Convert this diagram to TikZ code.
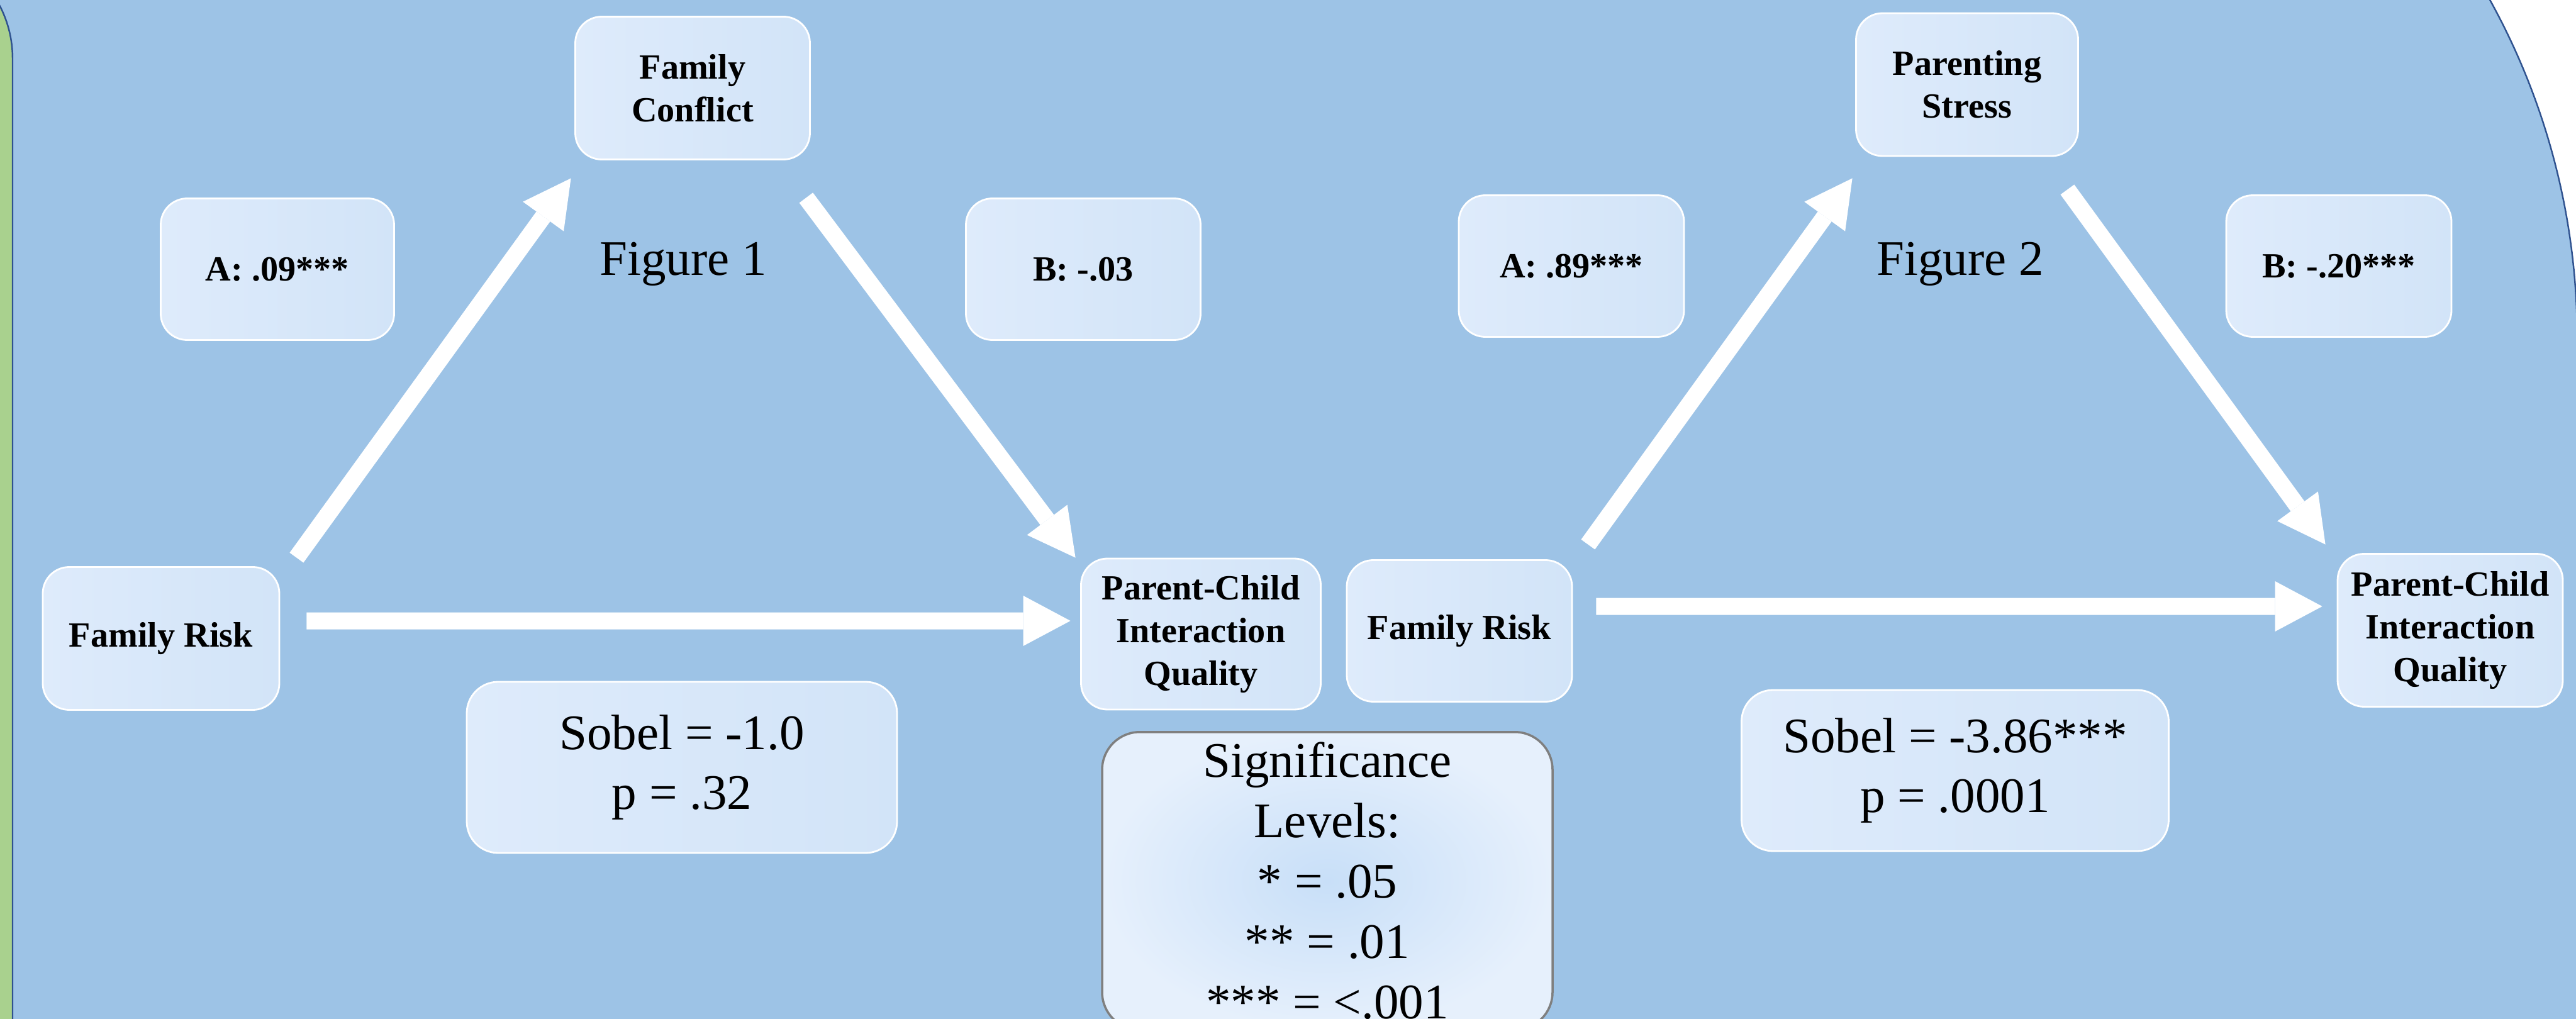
\documentclass[tikz,border=0pt]{standalone}
\usepackage{fontspec}
\setmainfont{Liberation Serif}
\usetikzlibrary{arrows.meta}
\definecolor{bgblue}{HTML}{9DC3E6}
\definecolor{bggreen}{HTML}{A9D18E}
\definecolor{edgeblue}{HTML}{2F528F}
\definecolor{boxlight}{HTML}{DEEBFB}
\definecolor{boxmid}{HTML}{D2E4F8}
\definecolor{sigin}{HTML}{C8DFF8}
\definecolor{sigout}{HTML}{E6F0FC}
\definecolor{sigedge}{HTML}{7F7F7F}
\begin{document}
\begin{tikzpicture}[
  varbox/.style={rounded corners=0.42cm, draw=white, line width=0.8pt, left color=boxlight, right color=boxmid, align=center, inner sep=0pt, font=\fontsize{16}{19.3}\selectfont\bfseries},
  bigbox/.style={varbox, rounded corners=0.5cm, font=\fontsize{22.5}{27.3}\selectfont},
  figlabel/.style={inner sep=0pt, font=\fontsize{22.5}{27}\selectfont},
  flow/.style={draw=white, line width=0.27cm, -{Triangle[length=0.75cm,width=0.8cm,line width=0pt]}}]
\useasboundingbox (0,0) rectangle (40.95,-16.2);
\clip (0,0) rectangle (40.95,-16.2);
\begin{scope}
  \fill[white] (0,0) rectangle (40.95,-16.2);
  \filldraw[fill=bgblue, draw=edgeblue, line width=0.7pt, rounded corners=11.18cm] (-5,5.78) rectangle (40.97,-30);
  \filldraw[fill=bggreen, draw=edgeblue, line width=0.7pt, rounded corners=1.82cm] (-5,0.89) rectangle (0.2,-30);
\end{scope}
\begin{scope}
  \node[varbox, minimum width=3.76cm, minimum height=2.27cm] (riskL) at (2.56,-10.15) {Family Risk};
  \node[varbox, minimum width=3.71cm, minimum height=2.25cm] (aL) at (4.41,-4.28) {A: .09***};
  \node[varbox, minimum width=3.73cm, minimum height=2.27cm] (conflict) at (11.01,-1.40) {Family\\Conflict};
  \node[figlabel] (fig1) at (10.86,-4.20) {Figure 1};
  \node[varbox, minimum width=3.73cm, minimum height=2.25cm] (bL) at (17.22,-4.28) {B: -.03};
  \node[varbox, minimum width=3.81cm, minimum height=2.40cm] (pcL) at (19.09,-10.08) {Parent-Child\\Interaction\\Quality};
  \node[bigbox, minimum width=6.84cm, minimum height=2.72cm] (sobelL) at (10.84,-12.20) {Sobel = -1.0\\p = .32};
\end{scope}
\begin{scope}
  \node[varbox, minimum width=3.58cm, minimum height=2.25cm] (riskR) at (23.20,-10.03) {Family Risk};
  \node[varbox, minimum width=3.58cm, minimum height=2.25cm] (aR) at (24.98,-4.23) {A: .89***};
  \node[varbox, minimum width=3.53cm, minimum height=2.27cm] (stress) at (31.27,-1.345) {Parenting\\Stress};
  \node[figlabel] (fig2) at (31.16,-4.20) {Figure 2};
  \node[varbox, minimum width=3.58cm, minimum height=2.25cm] (bR) at (37.18,-4.23) {B: -.20***};
  \node[varbox, minimum width=3.58cm, minimum height=2.43cm] (pcR) at (38.95,-10.02) {Parent-Child\\Interaction\\Quality};
  \node[bigbox, minimum width=6.79cm, minimum height=2.56cm] (sobelR) at (31.08,-12.25) {Sobel = -3.86***\\p = .0001};
\end{scope}
\node[bigbox, draw=sigedge, line width=1pt, rounded corners=0.6cm, inner color=sigin, outer color=sigout, minimum width=7.16cm, inner sep=0.165cm, anchor=north] (sig) at (21.10,-11.62) {Significance\\Levels:\\* = .05\\** = .01\\*** = <.001};
\begin{scope}
  \draw[flow] ([shift={(0.26,0.135)}]riskL.north east) -- ([shift={(-0.055,-0.285)}]conflict.south west);
  \draw[flow] ([shift={(-0.075,-0.595)}]conflict.south east) -- ([shift={(-0.075,0)}]pcL.north west);
  \draw[flow] ([shift={(0.42,0.28)}]riskL.east) -- ([shift={(-0.155,0.21)}]pcL.west);
  \draw[flow] ([shift={(0.24,0.235)}]riskR.north east) -- ([shift={(-0.045,-0.34)}]stress.south west);
  \draw[flow] ([shift={(-0.185,-0.52)}]stress.south east) -- ([shift={(-0.18,0.135)}]pcR.north west);
  \draw[flow] ([shift={(0.37,0.39)}]riskR.east) -- ([shift={(-0.23,0.38)}]pcR.west);
\end{scope}
\end{tikzpicture}
\end{document}
